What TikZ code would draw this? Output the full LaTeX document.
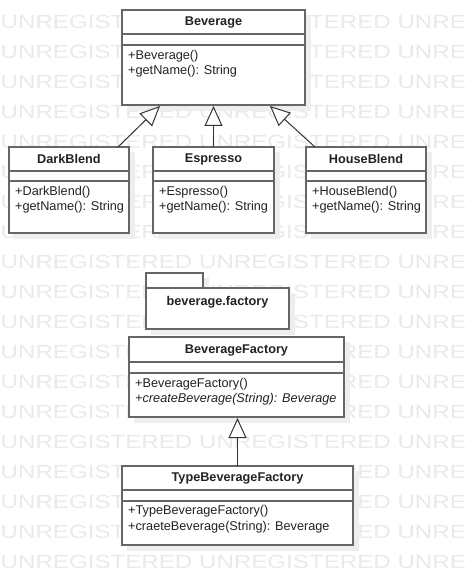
\documentclass[tikz,border=0pt]{standalone}
\usepackage{fontspec}
\setmainfont{Liberation Sans}
\usetikzlibrary{arrows.meta,calc}
\definecolor{wm}{HTML}{EAEAEA}
\definecolor{bord}{HTML}{666666}
\definecolor{shad}{HTML}{EEEEEE}
\definecolor{txt}{HTML}{222222}
\definecolor{conn}{HTML}{333333}
\begin{document}
\begin{tikzpicture}[x=1pt,y=-1pt,
  wmtext/.style={text=wm,inner sep=0pt,font=\fontsize{19}{19}\selectfont},
  cls/.style={draw=bord,line width=2pt,fill=white,inner sep=0pt,outer sep=0pt,rectangle},
  sep/.style={draw=bord,line width=2pt},
  shadowbox/.style={fill=shad},
  ctitle/.style={text=txt,inner sep=0pt,font=\fontsize{12.7}{15}\bfseries\selectfont},
  attr/.style={text=txt,inner sep=0pt,anchor=west,font=\fontsize{12.7}{15}\selectfont},
  gen/.style={draw=conn,line width=1pt,-{Triangle[length=20pt,width=18pt,fill=white,line width=1pt]}}
]
\useasboundingbox (0,0) rectangle (466,585);
\clip (0,0) rectangle (466,585);
\fill[white] (0,0) rectangle (466,585);
% watermark
\foreach \k in {0,...,18}{
  \node[wmtext,anchor=base west] (wm\k) at (0.5,{28.5+30*\k}) {\scalebox{1.27}[1]{UNREGISTERED UNREGISTERED UNREGISTERED}};
}
% shadows
\fill[shad] (127,15) rectangle (311,111);
\fill[shad] (14,152) rectangle (135,239);
\fill[shad] (158,152) rectangle (280,239);
\fill[shad] (311,152) rectangle (432,239);
\fill[shad] (151,278) rectangle (209,294);
\fill[shad] (151,293) rectangle (295,335);
\fill[shad] (134,342) rectangle (350,423);
\fill[shad] (127,471) rectangle (359,551);

% Beverage
\node[cls,minimum width=183pt,minimum height=95pt,anchor=north west] (bev) at (122,10) {};
\draw[sep] ([yshift=-24pt]bev.north west) -- ([yshift=-24pt]bev.north east);
\draw[sep] ([yshift=-35pt]bev.north west) -- ([yshift=-35pt]bev.north east);
\node[ctitle] (bevT) at ([yshift=-12pt]bev.north) {Beverage};
\node[attr] (bevA) at ([xshift=6pt,yshift=-46.5pt]bev.north west) {+Beverage()};
\node[attr] (bevB) at ([xshift=6pt,yshift=-61.5pt]bev.north west) {+getName(): String};

% DarkBlend
\node[cls,minimum width=120pt,minimum height=86pt,anchor=north west] (dark) at (9,147) {};
\draw[sep] ([yshift=-24pt]dark.north west) -- ([yshift=-24pt]dark.north east);
\draw[sep] ([yshift=-34pt]dark.north west) -- ([yshift=-34pt]dark.north east);
\node[ctitle] (darkT) at ([yshift=-12pt]dark.north) {DarkBlend};
\node[attr] (darkA) at ([xshift=6pt,yshift=-45pt]dark.north west) {+DarkBlend()};
\node[attr] (darkB) at ([xshift=6pt,yshift=-60pt]dark.north west) {+getName(): String};

% Espresso
\node[cls,minimum width=121pt,minimum height=86pt,anchor=north west] (esp) at (153,147) {};
\draw[sep] ([yshift=-24pt]esp.north west) -- ([yshift=-24pt]esp.north east);
\draw[sep] ([yshift=-34pt]esp.north west) -- ([yshift=-34pt]esp.north east);
\node[ctitle] (espT) at ([yshift=-12pt]esp.north) {Espresso};
\node[attr] (espA) at ([xshift=6pt,yshift=-45pt]esp.north west) {+Espresso()};
\node[attr] (espB) at ([xshift=6pt,yshift=-60pt]esp.north west) {+getName(): String};

% HouseBlend
\node[cls,minimum width=120pt,minimum height=86pt,anchor=north west] (house) at (306,147) {};
\draw[sep] ([yshift=-24pt]house.north west) -- ([yshift=-24pt]house.north east);
\draw[sep] ([yshift=-34pt]house.north west) -- ([yshift=-34pt]house.north east);
\node[ctitle] (houseT) at ([yshift=-12pt]house.north) {HouseBlend};
\node[attr] (houseA) at ([xshift=6pt,yshift=-45pt]house.north west) {+HouseBlend()};
\node[attr] (houseB) at ([xshift=6pt,yshift=-60pt]house.north west) {+getName(): String};

% package
\node[cls,minimum width=57pt,minimum height=15pt,anchor=north west] (pkgtab) at (146,273) {};
\node[cls,minimum width=143pt,minimum height=41pt,anchor=north west] (pkg) at (146,288) {};
\node[ctitle] (pkgT) at ([yshift=-14pt]pkg.north) {beverage.factory};

% BeverageFactory
\node[cls,minimum width=215pt,minimum height=80pt,anchor=north west] (bf) at (129,337) {};
\draw[sep] ([yshift=-25pt]bf.north west) -- ([yshift=-25pt]bf.north east);
\draw[sep] ([yshift=-36pt]bf.north west) -- ([yshift=-36pt]bf.north east);
\node[ctitle] (bfT) at ([yshift=-13pt]bf.north) {BeverageFactory};
\node[attr] (bfA) at ([xshift=6pt,yshift=-47pt]bf.north west) {+BeverageFactory()};
\node[attr] (bfB) at ([xshift=6pt,yshift=-62pt]bf.north west) {\itshape +createBeverage(String): Beverage};

% TypeBeverageFactory
\node[cls,minimum width=231pt,minimum height=79pt,anchor=north west] (tbf) at (122,466) {};
\draw[sep] ([yshift=-24pt]tbf.north west) -- ([yshift=-24pt]tbf.north east);
\draw[sep] ([yshift=-35pt]tbf.north west) -- ([yshift=-35pt]tbf.north east);
\node[ctitle] (tbfT) at ([yshift=-12pt]tbf.north) {TypeBeverageFactory};
\node[attr] (tbfA) at ([xshift=6pt,yshift=-45.5pt]tbf.north west) {+TypeBeverageFactory()};
\node[attr] (tbfB) at ([xshift=6pt,yshift=-61pt]tbf.north west) {+craeteBeverage(String): Beverage};

% generalizations
\draw[gen] ([xshift=109pt]dark.north west) -- ([xshift=38pt,yshift=-1pt]bev.south west);
\draw[gen] (esp.north) -- ([yshift=-1pt]esp.north |- bev.south);
\draw[gen] ([xshift=9pt]house.north west) -- ([xshift=-35pt,yshift=-1pt]bev.south east);
\draw[gen] (tbf.north) -- ([yshift=-1pt]tbf.north |- bf.south);
\end{tikzpicture}
\end{document}
